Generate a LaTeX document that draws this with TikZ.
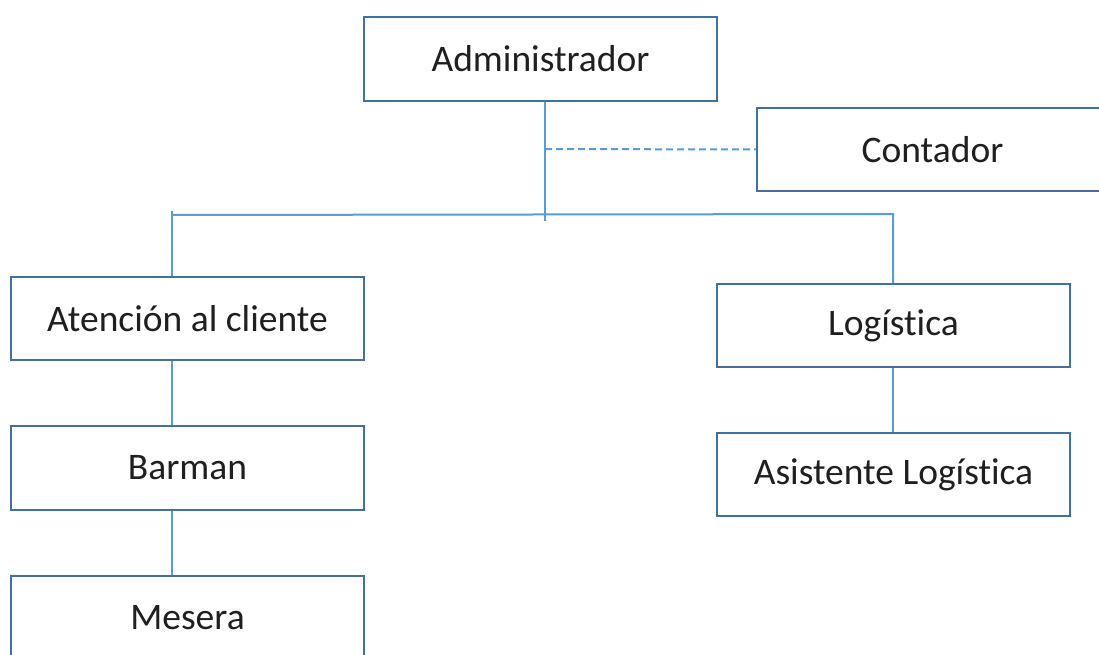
\documentclass[tikz,border=0pt]{standalone}
\usepackage{fontspec}
\setmainfont[Ligatures={NoCommon}]{Carlito}
\definecolor{boxline}{HTML}{41719C}
\definecolor{conline}{HTML}{5B9BD5}
\definecolor{txt}{HTML}{1F1F1F}
\begin{document}
\begin{tikzpicture}[x=1pt,y=-1pt,
  orgbox/.style={draw=boxline,line width=2pt,fill=white,rectangle,minimum width=353pt,minimum height=84pt,inner sep=0pt,text=txt,font=\fontsize{37.5}{45}\selectfont},
  conn/.style={draw=conline,line width=2pt}]
\useasboundingbox (0,0) rectangle (1099,655);
\clip (0,0) rectangle (1099,655);
\fill[white] (0,0) rectangle (1099,655);
\coordinate (bar) at (545,216);
\coordinate (barend) at (545,221);
\coordinate (dash) at (545,149);
\coordinate (lx) at (172,215);
\coordinate (ltop) at (172,211);
\coordinate (rx) at (893,214);
\node[orgbox] (admin) at (540.5,59) {Administrador};
\node[orgbox,minimum width=351pt,minimum height=83pt] (cont) at (932.5,149.5) {Contador};
\node[orgbox,minimum height=83pt] (aten) at (187.5,318.5) {Atención al cliente};
\node[orgbox] (barman) at (187.5,468) {Barman};
\node[orgbox] (mesera) at (187.5,618) {Mesera};
\node[orgbox,minimum height=83pt] (logi) at (893.5,325.5) {Logística};
\node[orgbox,minimum height=83pt] (asis) at (893.5,474.5) {Asistente Logística};
\draw[conn] (admin.south -| bar) -- (barend);
\draw[conn,dash pattern=on 7pt off 4pt] (dash) -- (cont.west);
\draw[conn] (lx) -- (rx) -- (logi.north -| rx);
\draw[conn] (ltop) -- (aten.north -| lx);
\draw[conn] (aten.south -| lx) -- (barman.north -| lx);
\draw[conn] (barman.south -| lx) -- (mesera.north -| lx);
\draw[conn] (logi.south -| rx) -- (asis.north -| rx);
\end{tikzpicture}
\end{document}
